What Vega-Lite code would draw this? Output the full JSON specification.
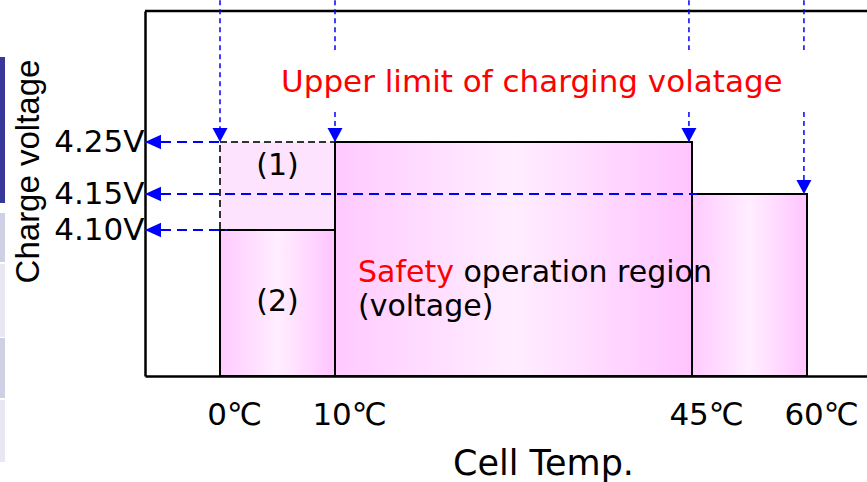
{
  "$schema": "https://vega.github.io/schema/vega-lite/v6.json",
  "autosize": {"type": "none"},
  "padding": {"left": 145, "top": 11, "right": 0, "bottom": 106},
  "width": 722,
  "height": 365,
  "background": "white",
  "config": {"view": {"stroke": null}, "font": "DejaVu Sans"},
  "datasets": {
    "bars": [
      {"t0": 0, "t1": 10, "v": 4.10},
      {"t0": 10, "t1": 45, "v": 4.25},
      {"t0": 45, "t1": 60, "v": 4.15}
    ],
    "region1": [{"t0": 0, "t1": 10, "v0": 4.10, "v1": 4.25}],
    "decor": [
      {"t0": -19.13, "t1": -18.69, "v0": 4.1375, "v1": 4.477, "c": "a"},
      {"t0": -19.13, "t1": -18.69, "v0": 3.9685, "v1": 4.1236, "c": "b"},
      {"t0": -19.13, "t1": -18.69, "v0": 3.6603, "v1": 3.9603, "c": "c"},
      {"t0": -19.13, "t1": -18.69, "v0": 3.4096, "v1": 3.6562, "c": "b"},
      {"t0": -19.13, "t1": -18.69, "v0": 3.1465, "v1": 3.4014, "c": "c"}
    ],
    "hlines": [
      {"v": 4.25, "t0": -6.52, "t": 0},
      {"v": 4.15, "t0": -6.52, "t": 45.65},
      {"v": 4.10, "t0": -6.52, "t": 0.6}
    ],
    "frame": [{"t0": -6.52, "t1": 67.83, "v": 4.6}],
    "vsegs": [
      {"t": 0, "a": 4.629, "b": 4.25},
      {"t": 10, "a": 4.629, "b": 4.496},
      {"t": 10, "a": 4.33, "b": 4.25},
      {"t": 44.7, "a": 4.629, "b": 4.496},
      {"t": 44.7, "a": 4.33, "b": 4.25},
      {"t": 59.6, "a": 4.629, "b": 4.496},
      {"t": 59.6, "a": 4.33, "b": 4.15}
    ],
    "downtips": [
      {"t": 0, "v": 4.25},
      {"t": 10, "v": 4.25},
      {"t": 44.7, "v": 4.25},
      {"t": 59.6, "v": 4.15}
    ],
    "lefttips": [
      {"t": -6.52, "v": 4.25},
      {"t": -6.52, "v": 4.15},
      {"t": -6.52, "v": 4.10}
    ],
    "clabels": [
      {"t": 29.3, "v": 4.384, "txt": "Upper limit of charging volatage", "col": "red", "fs": 31},
      {"t": 5, "v": 4.1865, "txt": "(1)", "col": "black", "fs": 30},
      {"t": 5, "v": 3.767, "txt": "(2)", "col": "black", "fs": 30}
    ],
    "llabels": [
      {"t": 12.25, "v": 3.886, "txt": "Safety", "col": "red", "fs": 30},
      {"t": 22.6, "v": 3.886, "txt": "operation region", "col": "black", "fs": 30},
      {"t": 12.25, "v": 3.747, "txt": "(voltage)", "col": "black", "fs": 30}
    ]
  },
  "layer": [
    {
      "data": {"name": "decor"},
      "mark": {"type": "rect", "strokeWidth": 0},
      "encoding": {
        "x": {"field": "t0", "type": "quantitative",
          "scale": {"domain": [-6.52, 0, 10, 45, 60, 67.83], "range": [0, 75, 190, 547, 662, 722], "nice": false, "zero": false},
          "axis": {
            "values": [0, 10, 45, 60],
            "labelExpr": "datum.value + '℃'",
            "labelFont": "DejaVu Sans",
            "labelFontSize": 31,
            "labelColor": "black",
            "labelBaseline": "top",
            "labelPadding": 24,
            "labelOffset": 14,
            "labelFlush": false,
            "labelOverlap": false,
            "tickSize": 0,
            "ticks": false,
            "grid": false,
            "domainColor": "black",
            "domainWidth": 2.5,
            "title": "Cell Temp.",
            "titleFont": "DejaVu Sans",
            "titleFontSize": 35,
            "titleFontWeight": "normal",
            "titleColor": "black",
            "titleX": 398,
            "titleY": 98,
            "titleAlign": "center",
            "titleBaseline": "alphabetic"
          }
        },
        "x2": {"field": "t1"},
        "y": {"field": "v0", "type": "quantitative",
          "scale": {"domain": [3.5, 4.10, 4.15, 4.25, 4.6], "range": [365, 219, 183, 131, 0], "nice": false, "zero": false},
          "axis": {
            "values": [4.10, 4.15, 4.25],
            "labelExpr": "format(datum.value, '.2f') + 'V'",
            "labelFont": "DejaVu Sans",
            "labelFontSize": 31,
            "labelColor": "black",
            "labelBaseline": "middle",
            "labelPadding": 1,
            "labelFlush": false,
            "labelOverlap": false,
            "tickSize": 0,
            "ticks": false,
            "grid": false,
            "domainColor": "black",
            "domainWidth": 2.5,
            "title": "Charge voltage",
            "titleFont": "Liberation Sans",
            "titleFontSize": 33,
            "titleFontWeight": "normal",
            "titleColor": "black",
            "titleAngle": 270,
            "titleX": -107,
            "titleY": 160,
            "titleAlign": "center",
            "titleBaseline": "alphabetic"
          }
        },
        "y2": {"field": "v1"},
        "color": {"field": "c", "type": "nominal", "legend": null,
          "scale": {"domain": ["a", "b", "c"], "range": ["#38389a", "#d0d0e4", "#e8e8f2"]}}
      }
    },
    {
      "data": {"name": "region1"},
      "mark": {"type": "rect", "fill": "#fde3fd", "stroke": "#333333", "strokeWidth": 2, "strokeDash": [7, 4]},
      "encoding": {
        "x": {"field": "t0", "type": "quantitative"},
        "x2": {"field": "t1"},
        "y": {"field": "v0", "type": "quantitative"},
        "y2": {"field": "v1"}
      }
    },
    {
      "data": {"name": "bars"},
      "mark": {
        "type": "rect",
        "stroke": "black",
        "strokeWidth": 2,
        "fill": {
          "gradient": "linear", "x1": 0, "y1": 0, "x2": 1, "y2": 0,
          "stops": [
            {"offset": 0, "color": "#ffcaff"},
            {"offset": 0.5, "color": "#ffeeff"},
            {"offset": 1, "color": "#ffc4ff"}
          ]
        }
      },
      "encoding": {
        "x": {"field": "t0", "type": "quantitative"},
        "x2": {"field": "t1"},
        "y": {"field": "v", "type": "quantitative"},
        "y2": {"datum": 3.5}
      }
    },
    {
      "data": {"name": "frame"},
      "mark": {"type": "rule", "color": "black", "strokeWidth": 2.5},
      "encoding": {
        "x": {"field": "t0", "type": "quantitative"},
        "x2": {"field": "t1"},
        "y": {"field": "v", "type": "quantitative"}
      }
    },
    {
      "data": {"name": "hlines"},
      "mark": {"type": "rule", "color": "#0000ff", "strokeWidth": 2, "strokeDash": [10, 6]},
      "encoding": {
        "x": {"field": "t0", "type": "quantitative"},
        "x2": {"field": "t"},
        "y": {"field": "v", "type": "quantitative"}
      }
    },
    {
      "data": {"name": "vsegs"},
      "mark": {"type": "rule", "color": "#0000ff", "strokeWidth": 1.5, "strokeDash": [5, 4]},
      "encoding": {
        "x": {"field": "t", "type": "quantitative"},
        "y": {"field": "a", "type": "quantitative"},
        "y2": {"field": "b"}
      }
    },
    {
      "data": {"name": "downtips"},
      "mark": {"type": "point", "shape": "M0,0L-0.5,-0.93L0.5,-0.93Z", "size": 900, "filled": true, "color": "#0000ff", "opacity": 1, "strokeWidth": 0},
      "encoding": {
        "x": {"field": "t", "type": "quantitative"},
        "y": {"field": "v", "type": "quantitative"}
      }
    },
    {
      "data": {"name": "lefttips"},
      "mark": {"type": "point", "shape": "M0,0L1,-0.45L1,0.45Z", "size": 1024, "filled": true, "color": "#0000ff", "opacity": 1, "strokeWidth": 0},
      "encoding": {
        "x": {"field": "t", "type": "quantitative"},
        "y": {"field": "v", "type": "quantitative"}
      }
    },
    {
      "data": {"name": "clabels"},
      "mark": {"type": "text", "font": "DejaVu Sans", "baseline": "alphabetic", "align": "center"},
      "encoding": {
        "x": {"field": "t", "type": "quantitative"},
        "y": {"field": "v", "type": "quantitative"},
        "text": {"field": "txt"},
        "color": {"field": "col", "type": "nominal", "scale": null},
        "size": {"field": "fs", "type": "quantitative", "scale": null}
      }
    },
    {
      "data": {"name": "llabels"},
      "mark": {"type": "text", "font": "DejaVu Sans", "baseline": "alphabetic", "align": "left"},
      "encoding": {
        "x": {"field": "t", "type": "quantitative"},
        "y": {"field": "v", "type": "quantitative"},
        "text": {"field": "txt"},
        "color": {"field": "col", "type": "nominal", "scale": null},
        "size": {"field": "fs", "type": "quantitative", "scale": null}
      }
    }
  ]
}
